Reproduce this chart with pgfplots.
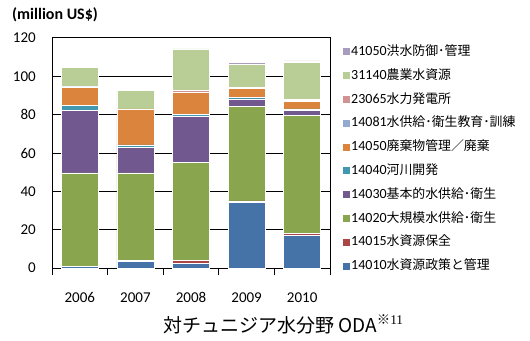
\documentclass[border=0pt]{standalone}
\usepackage{pgfplots}
\pgfplotsset{compat=1.18}
\usepackage{fontspec}
\setmainfont{Carlito}
\newfontfamily\jp{Noto Sans CJK JP}[Scale=0.92]
\newfontfamily\jpt{Noto Sans CJK JP}
\newfontfamily\serif{Liberation Serif}
\definecolor{c1}{HTML}{4572A7}
\definecolor{c2}{HTML}{AA4643}
\definecolor{c3}{HTML}{89A54E}
\definecolor{c4}{HTML}{71588F}
\definecolor{c5}{HTML}{4198AF}
\definecolor{c6}{HTML}{DB843D}
\definecolor{c7}{HTML}{93A9CF}
\definecolor{c8}{HTML}{D19392}
\definecolor{c9}{HTML}{B9CD96}
\definecolor{c10}{HTML}{A99BBD}
\begin{document}
\begin{tikzpicture}[x=1bp,y=1bp]
\path[use as bounding box] (0,0) rectangle (530,340);
\begin{axis}[
  at={(52bp,72bp)}, anchor=south west,
  scale only axis, width=278bp, height=230bp,
  ybar stacked, bar width=37bp,
  xmin=-0.5, xmax=4.5, ymin=0, ymax=120,
  xtick={0,1,2,3,4}, xticklabels={2006,2007,2008,2009,2010},
  minor xtick={-0.5,0.5,1.5,2.5,3.5,4.5},
  ytick={0,20,...,120},
  major tick length=0pt, minor tick length=7bp,
  tick align=outside, tick pos=left,
  minor tick style={black, line width=1bp},
  ymajorgrids, grid style={black, line width=1bp},
  axis line style={black, line width=1bp},
  /pgf/number format/assume math mode=true,
  ticklabel style={font=\fontsize{15bp}{18bp}\selectfont},
  yticklabel style={anchor=east, inner sep=0pt, xshift=-16bp},
  xticklabel style={anchor=base, inner sep=0pt, yshift=-34bp},
  every axis plot/.append style={draw=white, line width=0.5bp},
  reverse legend,
  legend image code/.code={\fill[#1,draw=none] (0bp,-3.5bp) rectangle (7bp,3.5bp);},
  legend style={at={(1.0468,0.973)}, anchor=north west, draw=none, fill=none,
    inner xsep=0pt, inner ysep=0pt, row sep=8.8bp,
    font=\fontsize{14bp}{16bp}\selectfont,
    nodes={inner sep=1bp, text height=10bp, text depth=3bp, anchor=west}},
  legend cell align=left,
  /tikz/every even column/.append style={column sep=1bp},
]
\addplot[fill=c1] coordinates {(0,0.9) (1,3.5) (2,2.6) (3,34.3) (4,17.2)};
\addplot[fill=c2] coordinates {(0,0) (1,0.5) (2,1.2) (3,0.7) (4,0.7)};
\addplot[fill=c3] coordinates {(0,48.7) (1,45.6) (2,51.5) (3,49.2) (4,61.9)};
\addplot[fill=c4] coordinates {(0,32.5) (1,13.4) (2,23.8) (3,4.1) (4,2.5)};
\addplot[fill=c5] coordinates {(0,2.6) (1,1.3) (2,0.9) (3,0.7) (4,0.7)};
\addplot[fill=c6] coordinates {(0,9.6) (1,18.7) (2,11.7) (3,4.9) (4,4.1)};
\addplot[fill=c7] coordinates {(0,0.2) (1,0) (2,0) (3,0.5) (4,0.4)};
\addplot[fill=c8] coordinates {(0,0.2) (1,0) (2,1.0) (3,0) (4,0.5)};
\addplot[fill=c9] coordinates {(0,10.1) (1,9.5) (2,21.6) (3,12.0) (4,19.3)};
\addplot[fill=c10] coordinates {(0,0) (1,0) (2,0) (3,0.7) (4,0.7)};
\legend{14010{\jp 水資源政策と管理},14015{\jp 水資源保全},14020{\jp 大規模水供給･衛生},14030{\jp 基本的水供給･衛生},14040{\jp 河川開発},14050{\jp 廃棄物管理／廃棄},14081{\jp 水供給･衛生教育･訓練},23065{\jp 水力発電所},31140{\jp 農業水資源},41050{\jp 洪水防御･管理}}
\end{axis}
\node[anchor=west, inner sep=0pt, font=\bfseries\fontsize{16bp}{18bp}\selectfont] at (12,325) {(million US\$)};
\node[anchor=base west, inner sep=0pt, font=\fontsize{19bp}{22bp}\selectfont] at (163,8) {\jpt 対チュニジア水分野 ODA\textsuperscript{\jpt ※\serif 11}};
\end{tikzpicture}
\end{document}
